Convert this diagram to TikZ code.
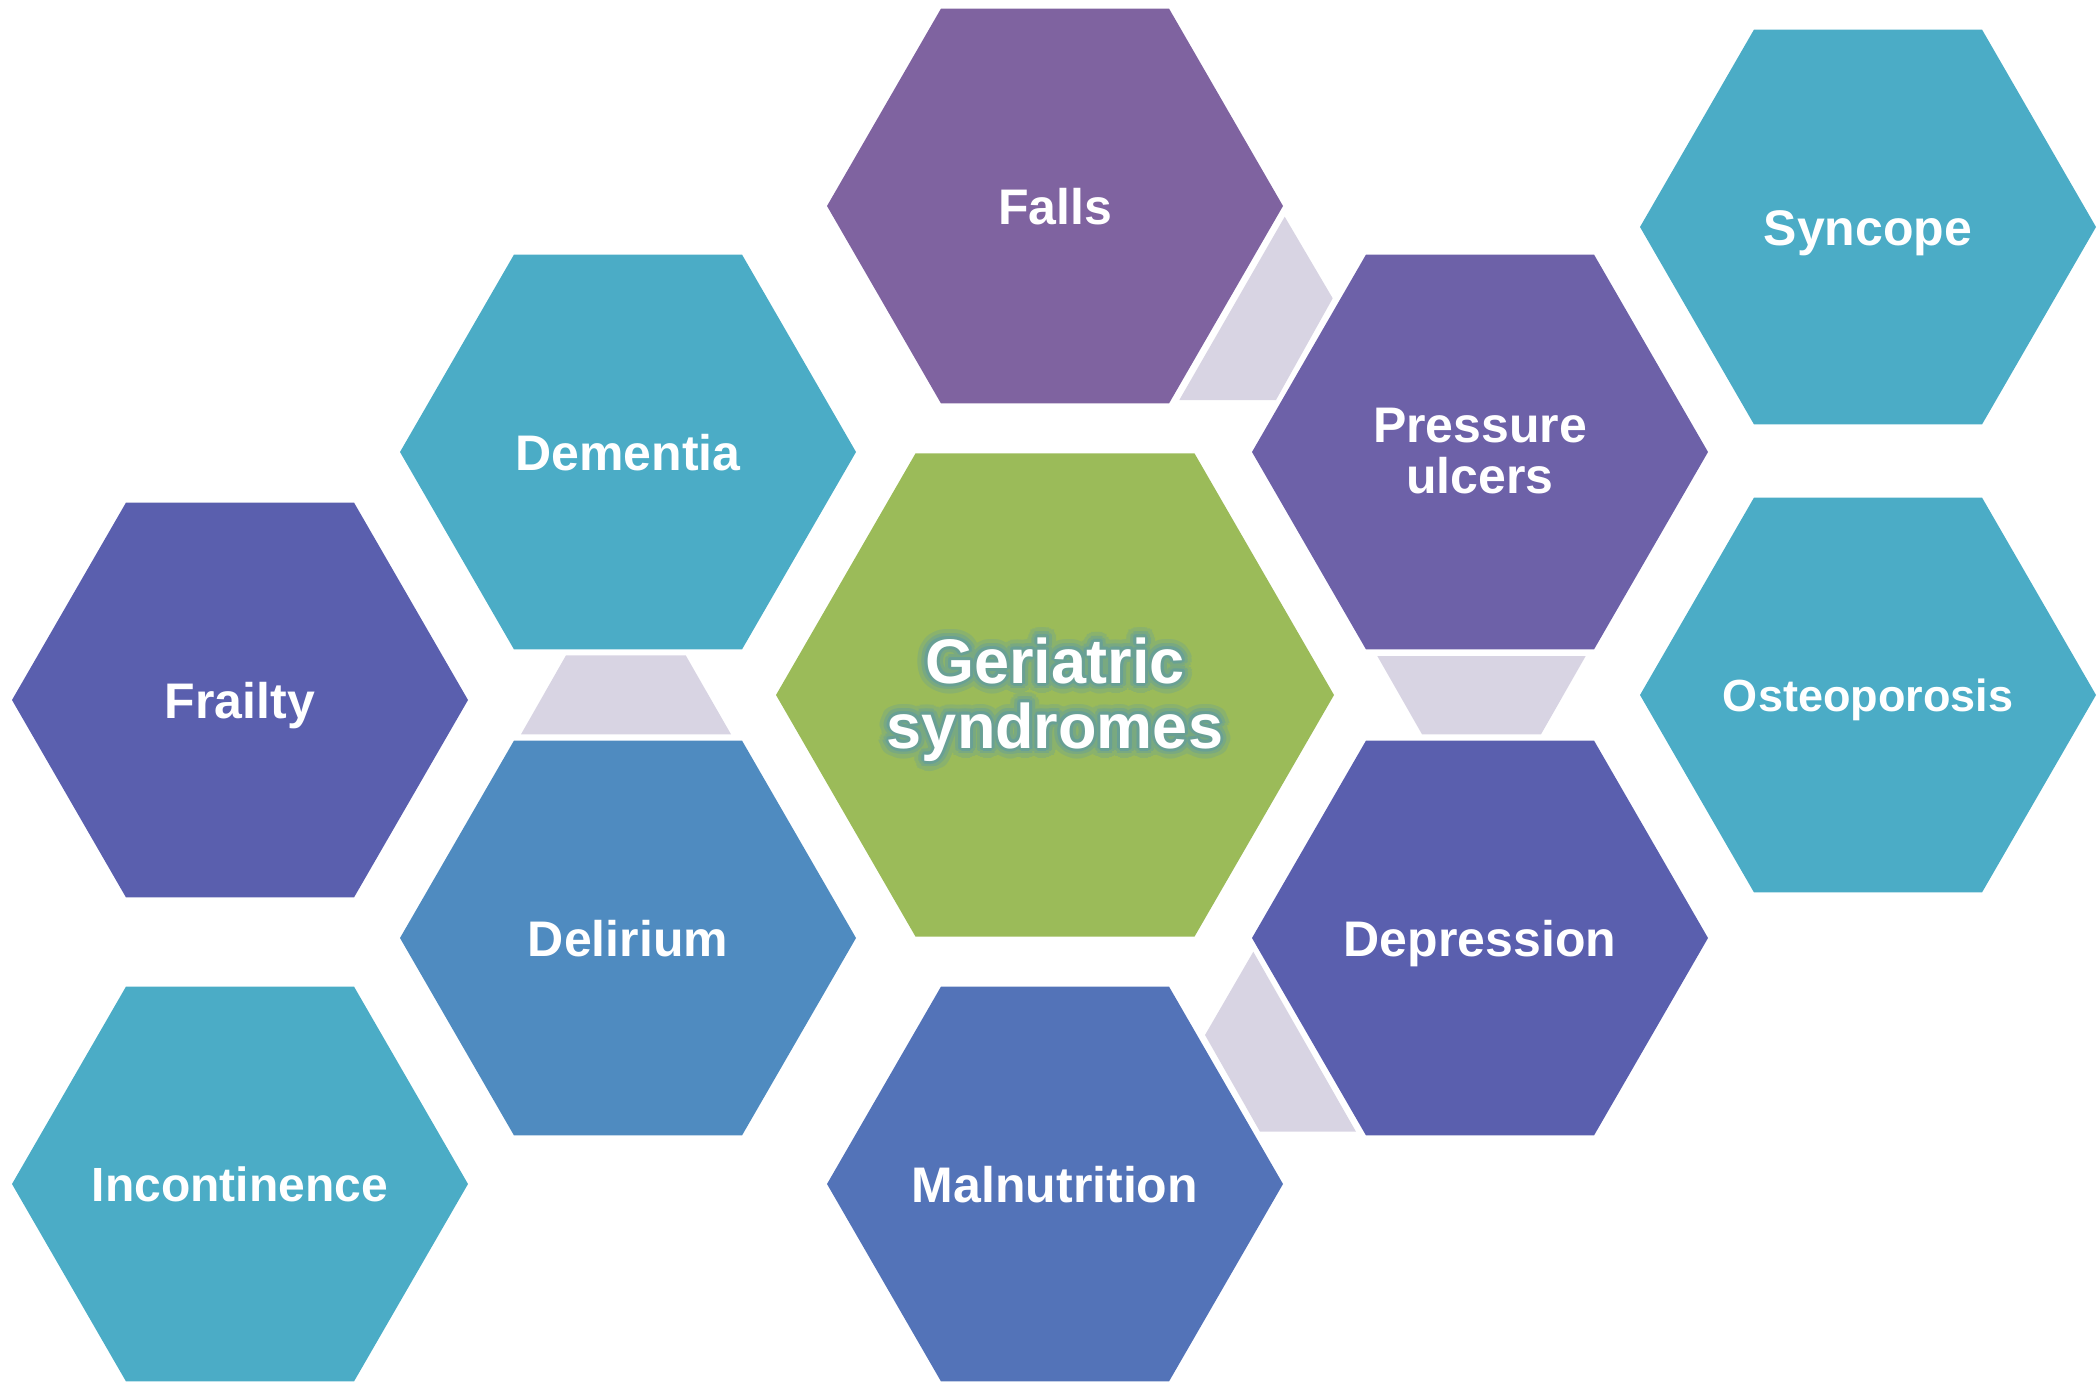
\documentclass[tikz,border=0pt]{standalone}
\usepackage{fontspec}
\setmainfont{Liberation Sans}
\usetikzlibrary{shapes.geometric}
\definecolor{cteal}{HTML}{4BACC6}
\definecolor{cindigo}{HTML}{5A5FAE}
\definecolor{cdeli}{HTML}{4F8BC0}
\definecolor{cmaln}{HTML}{5373B8}
\definecolor{cfalls}{HTML}{7F63A0}
\definecolor{cpress}{HTML}{6D61A8}
\definecolor{cgreen}{HTML}{9BBB59}
\definecolor{clink}{HTML}{D8D4E3}
\definecolor{cglow}{HTML}{5A99A8}
\begin{document}
\begin{tikzpicture}[x=1pt,y=-1pt,
  hexa/.style={regular polygon, regular polygon sides=6, draw=none, inner sep=0pt, outer sep=0pt, minimum size=456pt},
  lab/.style={text=white, font=\bfseries\fontsize{50}{52}\selectfont, anchor=base, inner sep=0pt},
  biglab/.style={font=\bfseries\fontsize{63}{65}\selectfont, anchor=base, inner sep=0pt},
  linkshape/.style={fill=clink, draw=none}]
\useasboundingbox (0,0) rectangle (2100,1383);
% hexagons
\node[hexa, fill=cindigo] (frailty) at (240,700) {};
\node[hexa, fill=cteal] (incont) at (240,1184) {};
\node[hexa, fill=cteal] (dementia) at (628,452) {};
\node[hexa, fill=cdeli] (delirium) at (628,938) {};
\node[hexa, fill=cfalls] (falls) at (1055,206) {};
\node[hexa, fill=cmaln] (maln) at (1055,1184) {};
\node[hexa, fill=cgreen, minimum size=558pt] (center) at (1055,695) {};
\node[hexa, fill=cpress] (pressure) at (1480,452) {};
\node[hexa, fill=cindigo] (depression) at (1480,938) {};
\node[hexa, fill=cteal] (syncope) at (1868,227) {};
\node[hexa, fill=cteal] (osteo) at (1868,695) {};
% linking shapes
\fill[linkshape] (1284.7,216.7) -- (1332.7,298.3) -- (1276,400) -- (1179.3,400) -- cycle;
\fill[linkshape] (566,655.3) -- (685.7,655.3) -- (731,734.3) -- (521,734.3) -- cycle;
\fill[linkshape] (1377.3,656) -- (1585.7,656) -- (1541,734.3) -- (1422,734.3) -- cycle;
\fill[linkshape] (1253.3,951.7) -- (1356,1131.7) -- (1260,1131.7) -- (1205,1035) -- cycle;
% labels
\node[lab] (tFrailty) at (240,718) {Frailty};
\node[lab, font=\bfseries\fontsize{48}{50}\selectfont] (tIncont) at (240,1201) {Incontinence};
\node[lab] (tDementia) at (628,470) {Dementia};
\node[lab] (tDelirium) at (628,956) {Delirium};
\node[lab] (tFalls) at (1055,224) {Falls};
\node[lab] (tMaln) at (1055,1202) {Malnutrition};
\node[lab] (tPress1) at (1480,442) {Pressure};
\node[lab] (tPress2) at (1480,493) {ulcers};
\node[lab] (tDepr) at (1480,956) {Depression};
\node[lab] (tSyncope) at (1868,245) {Syncope};
\node[lab, font=\bfseries\fontsize{45}{47}\selectfont] (tOsteo) at (1868,711) {Osteoporosis};
% glow of central text
\begin{scope}[transparency group, opacity=0.25]
  \foreach \a in {0,15,...,345} {
    \node[biglab, text=cglow] at ([shift={(\a:10)}]1055,683) {Geriatric};
    \node[biglab, text=cglow] at ([shift={(\a:10)}]1055,748) {syndromes};
  }
\end{scope}
\begin{scope}[transparency group, opacity=0.35]
  \foreach \a in {0,20,...,340} {
    \node[biglab, text=cglow] at ([shift={(\a:6)}]1055,683) {Geriatric};
    \node[biglab, text=cglow] at ([shift={(\a:6)}]1055,748) {syndromes};
  }
\end{scope}
\begin{scope}[transparency group, opacity=0.5]
  \foreach \a in {0,30,...,330} {
    \node[biglab, text=cglow] at ([shift={(\a:3)}]1055,683) {Geriatric};
    \node[biglab, text=cglow] at ([shift={(\a:3)}]1055,748) {syndromes};
  }
\end{scope}
\node[biglab, text=white] (tGer) at (1055,683) {Geriatric};
\node[biglab, text=white] (tSyn) at (1055,748) {syndromes};
\end{tikzpicture}
\end{document}
